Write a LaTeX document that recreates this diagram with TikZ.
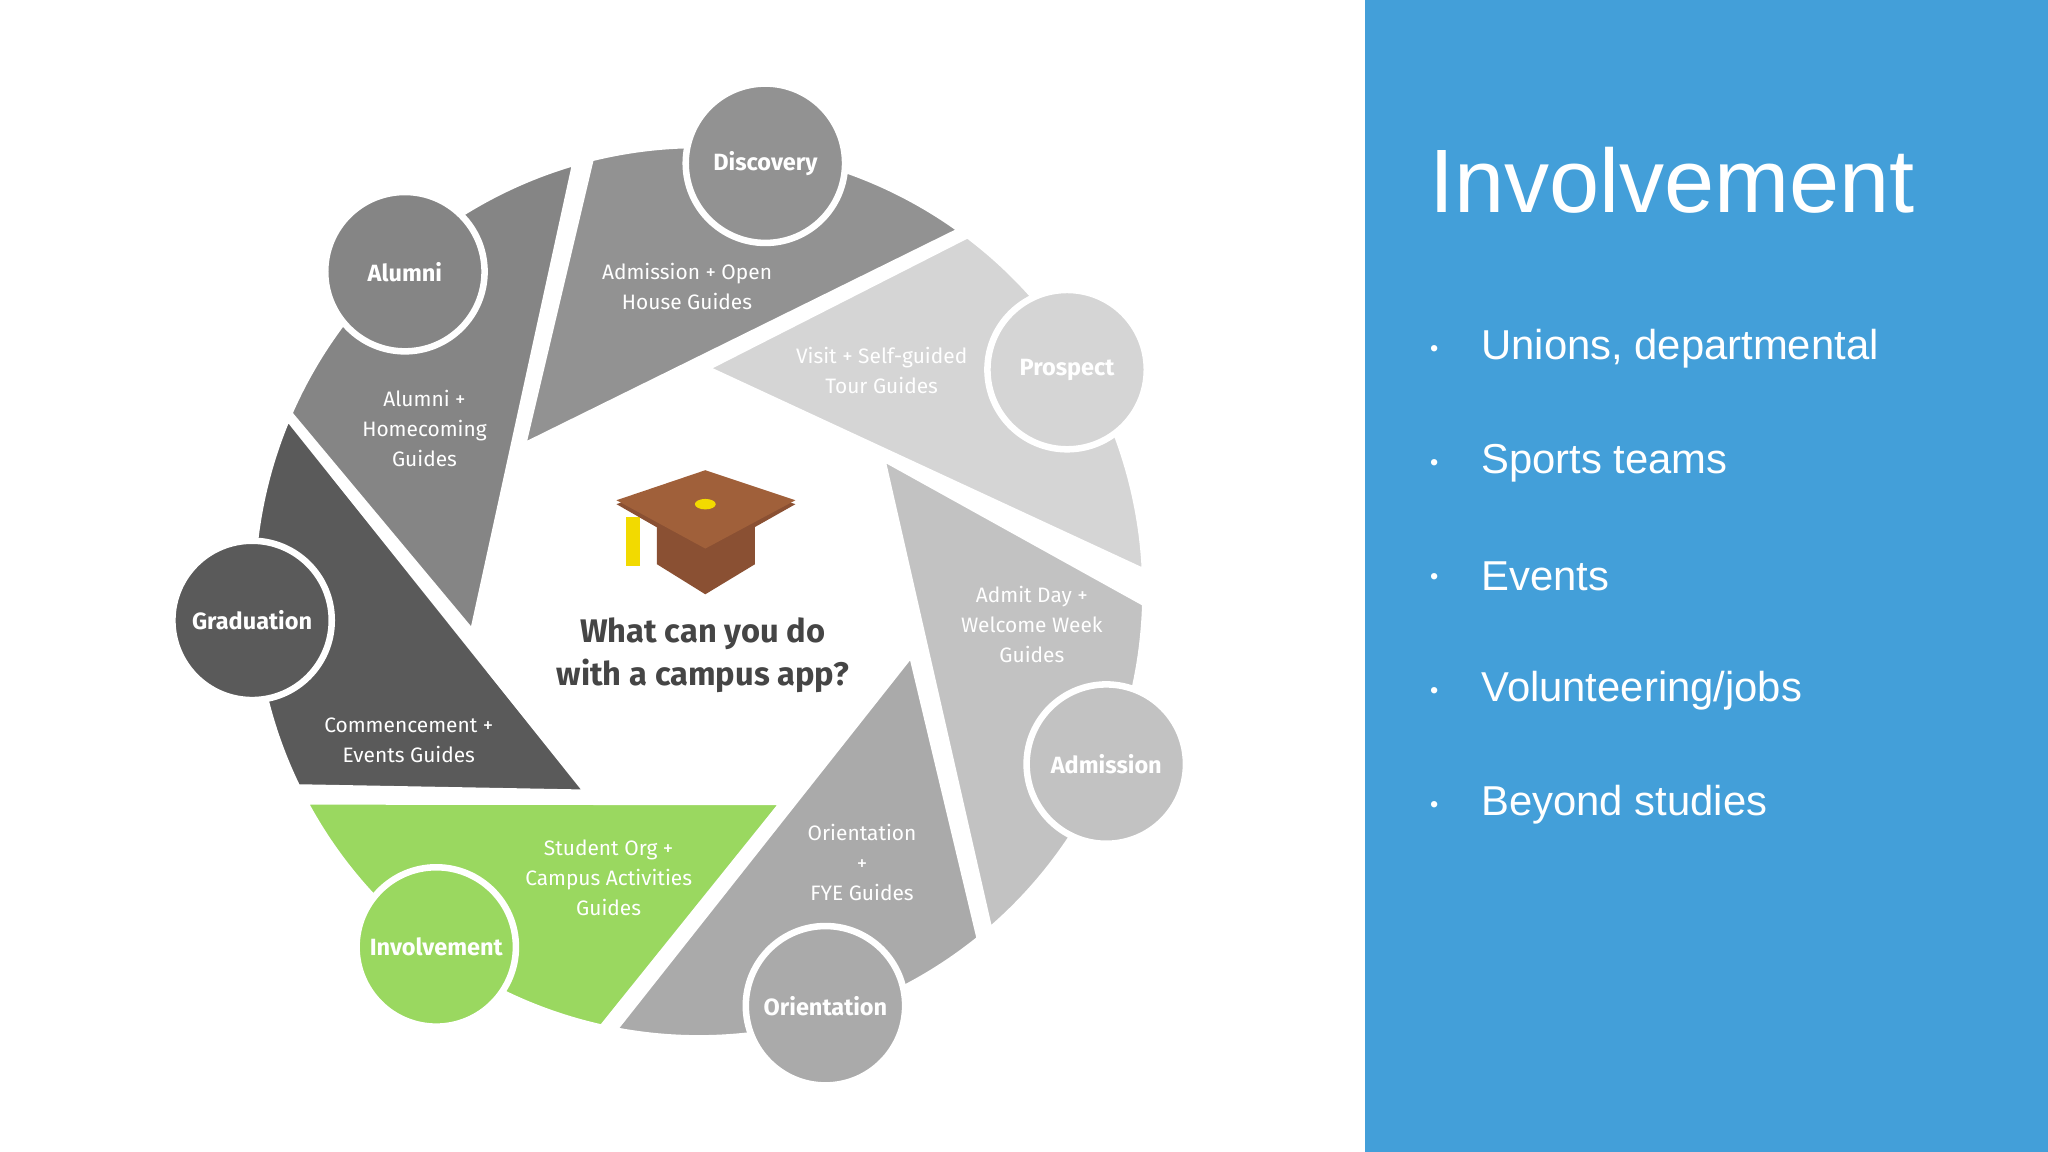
\documentclass[tikz,border=0pt]{standalone}
\usepackage{fontspec}
\setmainfont{Fira Sans}
\newfontfamily\arialf{Liberation Sans}
\usetikzlibrary{calc}
\definecolor{panel}{HTML}{439FD9}
\definecolor{cdisc}{HTML}{929292}
\definecolor{calum}{HTML}{858585}
\definecolor{cgrad}{HTML}{5A5A5A}
\definecolor{cinv}{HTML}{9AD860}
\definecolor{corie}{HTML}{AAAAAA}
\definecolor{cadm}{HTML}{C2C2C2}
\definecolor{cpros}{HTML}{D5D5D5}
\definecolor{darktxt}{HTML}{454545}
\definecolor{capbrown}{HTML}{A0603A}
\definecolor{capdark}{HTML}{8A5033}
\definecolor{capyel}{HTML}{F2DA00}
\begin{document}
\begin{tikzpicture}[x=1pt,y=-1pt,
  blade/.style={draw=white,line width=5pt,line join=round},
  stage/.style={circle,draw=white,line width=5pt,minimum size=122pt,inner sep=0pt,text=white,font=\fontsize{18}{20}\selectfont\bfseries},
  guide/.style={align=center,text=white,font=\fontsize{16}{23}\selectfont},
  bul/.style={anchor=west,text=white,font=\arialf\fontsize{32}{36}\selectfont}]
\useasboundingbox (0,0) rectangle (1568,882);
\fill[white] (0,0) rectangle (1568,882);
\fill[panel] (1045,0) rectangle (1568,882);
\coordinate (C) at (535,453);
\def\R{342pt}
% blades
\path[blade,fill=cdisc] ($(C)+(104:\R)$) arc[start angle=104,end angle=54,radius=\R] -- (400,342) -- cycle;
\path[blade,fill=calum] (362,485) -- ($(C)+(106:\R)$) arc[start angle=106,end angle=156.5,radius=\R] -- cycle;
\path[blade,fill=cgrad] ($(C)+(157:\R)$) arc[start angle=157,end angle=206,radius=\R] -- (450,607) -- cycle;
\path[blade,fill=cinv] (600,614) -- ($(C)+(257.5:\R)$) arc[start angle=257.5,end angle=208,radius=\R] -- cycle;
\path[blade,fill=corie] (698,500) -- ($(C)+(309:\R)$) arc[start angle=309,end angle=259,radius=\R] -- cycle;
\path[blade,fill=cadm] (675,350) -- ($(C)+(358.5:\R)$) arc[start angle=358.5,end angle=310.6,radius=\R] -- cycle;
\path[blade,fill=cpros] (540,282) -- ($(C)+(53:\R)$) arc[start angle=53,end angle=2.5,radius=\R] -- cycle;
% guide labels
\node[guide] (gdisc) at (526,219) {Admission + Open\\House Guides};
\node[guide] (gpros) at (675,284) {Visit + Self-guided\\Tour Guides};
\node[guide] (gadm) at (790,478) {Admit Day +\\Welcome Week\\Guides};
\node[guide] (gorie) at (660,660) {Orientation\\+\\FYE Guides};
\node[guide] (ginv) at (466,672) {Student Org +\\Campus Activities\\Guides};
\node[guide] (ggrad) at (313,567) {Commencement +\\Events Guides};
\node[guide] (galum) at (325,328) {Alumni +\\Homecoming\\Guides};
% stage circles
\node[stage,fill=cdisc] (disc) at (586,125) {Discovery};
\node[stage,fill=calum] (alum) at (310,208) {Alumni};
\node[stage,fill=cgrad] (grad) at (193,475) {Graduation};
\node[stage,fill=cinv] (inv) at (334,725) {Involvement};
\node[stage,fill=corie] (orie) at (632,770) {Orientation};
\node[stage,fill=cadm] (adm) at (847,585) {Admission};
\node[stage,fill=cpros] (pros) at (817,283) {Prospect};
% cap icon
\fill[capdark] (503,400) -- (578,400) -- (578,432) -- (540,455) -- (503,432) -- cycle;
\fill[capyel] (479,396) rectangle (490,433);
\fill[capdark] (472,386) -- (540,363) -- (609,386) -- (540,425) -- cycle;
\fill[capbrown] (472,383) -- (540,360) -- (609,383) -- (540,420) -- cycle;
\fill[capyel] (540,386) ellipse[x radius=8pt,y radius=4pt];
\node[align=center,text=darktxt,font=\fontsize{25}{33}\selectfont\bfseries] (q) at (538,502) {What can you do\\with a campus app?};
% right panel
\node[anchor=base west,text=white,font=\arialf\fontsize{69}{80}\selectfont,inner sep=0pt] (title) at (1094,163) {Involvement};
\foreach \t [count=\i] in {{Unions, departmental},{Sports teams},{Events},{Volunteering/jobs},{Beyond studies}}{
  \node[text=white,font=\arialf\fontsize{18}{20}\selectfont] (b\i) at (1098,{267+87.3*(\i-1)+2}) {•};
  \node[bul,inner sep=0pt] (t\i) at (1134,{267+87.3*(\i-1)}) {\t};
}
\end{tikzpicture}
\end{document}
